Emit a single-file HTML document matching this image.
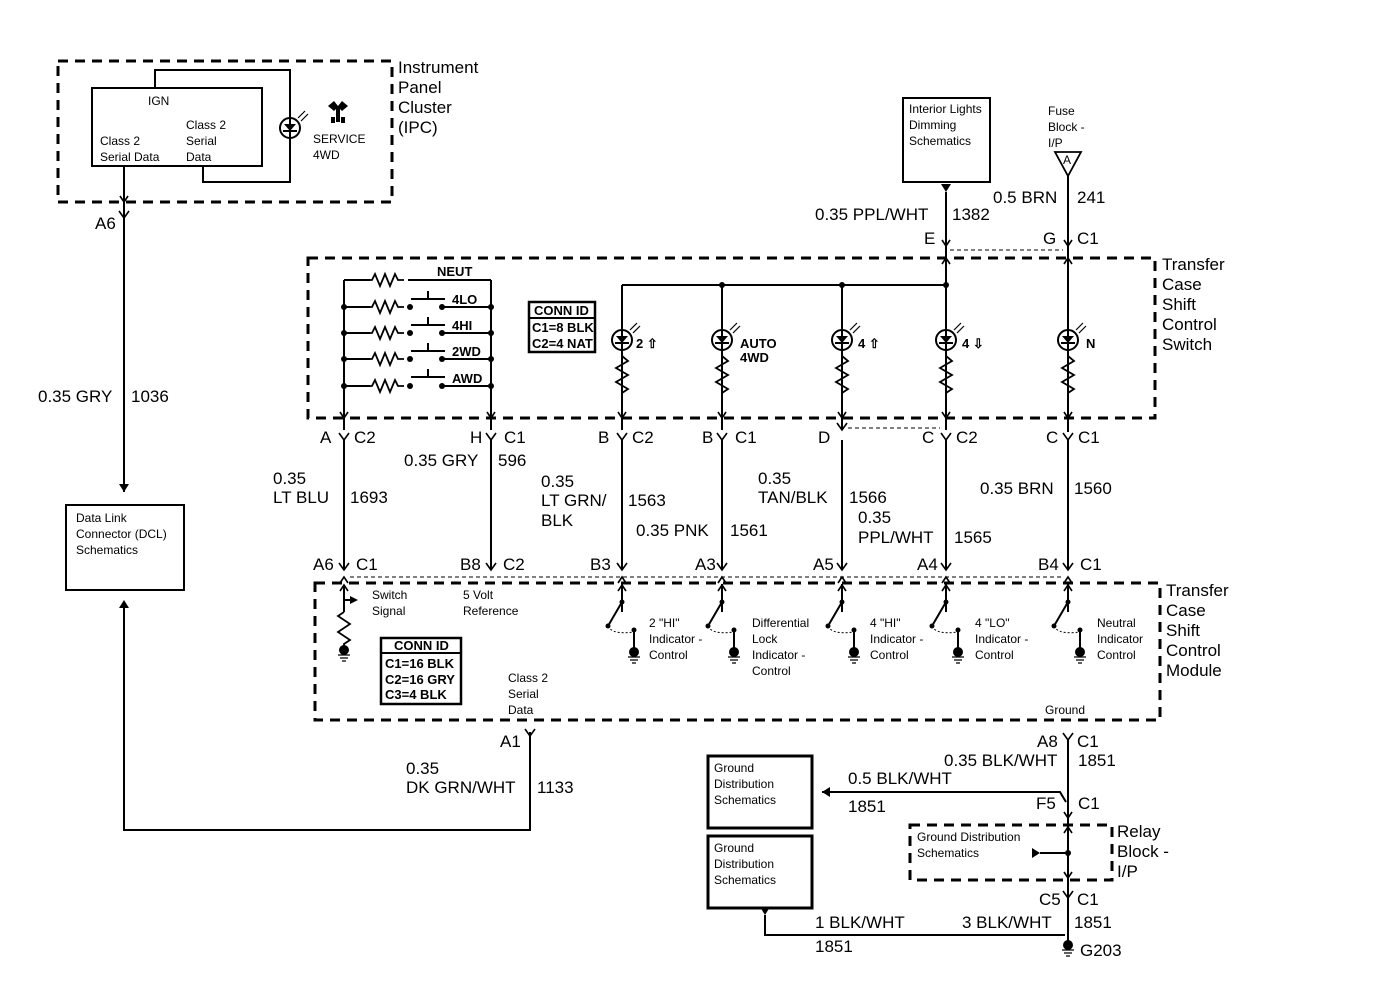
<!DOCTYPE html>
<html><head><meta charset="utf-8"><style>
html,body{margin:0;padding:0;background:#fff}
svg{display:block}
text{font-family:"Liberation Sans",Arial,sans-serif;fill:#000}
.l{font-size:17px}
.s{font-size:12px}
.m{font-size:13px;font-weight:bold}
</style></head><body>
<svg width="1400" height="992" viewBox="0 0 1400 992" xmlns="http://www.w3.org/2000/svg">
<defs>
<g id="led"><circle r="10" fill="#fff" stroke="#000" stroke-width="2"/><path d="M-6,-4 L6,-4 L0,3 Z" fill="#000"/><path d="M-7,3 L7,3 M0,-10 L0,10" stroke="#000" stroke-width="2"/><path d="M8,-10 L15,-17 M11,-7 L18,-14" stroke="#000" stroke-width="1.2"/></g>
<path id="res" d="M0,0 L0,4 L6,9 L-6,16 L6,23 L-6,30 L6,37 L0,41 L0,44" fill="none" stroke="#000" stroke-width="1.8"/>
<path id="hres" d="M0,0 L6,0 L9,-6 L14,6 L19,-6 L24,6 L29,-6 L32,0 L38,0" fill="none" stroke="#000" stroke-width="1.8"/>
<path id="fork" d="M-5,-7 L0,0 L5,-7" fill="none" stroke="#000" stroke-width="1.6"/>
<path id="arrd" d="M-4,-6 L0,0 L4,-6" fill="none" stroke="#000" stroke-width="1.6"/>
<path id="arru" d="M-4,6 L0,0 L4,6" fill="none" stroke="#000" stroke-width="1.6"/>
<g id="gnd"><circle r="5" fill="#000"/><path d="M-6,5 L6,5 M-4,8 L4,8 M-2,11 L2,11" stroke="#000" stroke-width="1.3"/></g>
<g id="sw"><circle cx="0" cy="-28" r="2.5"/><path d="M0,-46 L0,-28 L-14,-4" stroke="#000" stroke-width="2" fill="none"/><circle cx="-14" cy="-4" r="2.5"/><path d="M-14,-4 Q-10,5 12,2" stroke="#000" stroke-dasharray="2,2" fill="none"/><circle cx="12" cy="0" r="2.5"/><path d="M12,0 L12,20" stroke="#000" stroke-width="2"/><use href="#gnd" x="12" y="22"/></g>
<g id="pb"><path d="M-17,0 L17,0 M0,0 L0,-8" stroke="#000" stroke-width="2"/></g>
</defs>
<g stroke="#000" fill="none">
<rect x="58" y="61" width="334" height="141" stroke-width="3" stroke-dasharray="10,7"/>
<rect x="92" y="88" width="170" height="78" stroke-width="2"/>
<path d="M155,88 L155,70 L290,70 L290,182 L203,182 L203,166" stroke-width="2"/>
<path d="M124,166 L124,492" stroke-width="2"/>
<rect x="66" y="505" width="118" height="85" stroke-width="2"/>
<path d="M124,606 L124,830 L530,830 L530,732" stroke-width="2"/>
<rect x="308" y="258" width="847" height="160" stroke-width="3" stroke-dasharray="10,7"/>
<rect x="315" y="583" width="845" height="137" stroke-width="3" stroke-dasharray="10,7"/>
<rect x="903" y="98" width="87" height="84" stroke-width="2"/>
<path d="M946,192 L946,430" stroke-width="2"/>
<path d="M1068,175 L1068,432" stroke-width="2"/>
<path d="M1055,152 L1081,152 L1068,176 Z" stroke-width="1.8"/>
<path d="M950,250 L1063,250" stroke-dasharray="4,3"/>
<path d="M344,280 L344,430 M491,280 L491,430" stroke-width="2"/>
<path d="M344,280 L370,280 M408,280 L491,280" stroke-width="2"/>
<path d="M442,307 L490,307 M442,333 L490,333 M442,359 L490,359 M442,386 L490,386" stroke-width="2"/>
<path d="M344,307 L370,307 M344,333 L370,333 M344,359 L370,359 M344,386 L370,386" stroke-width="2"/>
<path d="M622,285 L946,285" stroke-width="2"/>
<path d="M622,285 L622,430 M722,285 L722,430 M842,285 L842,430" stroke-width="2"/>
<path d="M848,428 L940,428" stroke-dasharray="4,3"/>
<path d="M344,440 L344,570 M491,440 L491,570 M622,440 L622,570 M722,440 L722,570 M842,440 L842,570 M946,440 L946,570 M1068,440 L1068,570" stroke-width="2"/>
<path d="M350,577 L1062,577" stroke-dasharray="4,3"/>
<path d="M344,585 L344,612 M622,585 L622,612 M722,585 L722,612 M842,585 L842,612 M946,585 L946,612 M1068,585 L1068,612" stroke-width="2"/>
<path d="M344,600 L354,600" stroke-width="2"/>
<path d="M1068,740 L1068,945" stroke-width="2"/>
<path d="M822,792 L1060,792 L1066,802" stroke-width="2"/>
<rect x="708" y="756" width="104" height="72" stroke-width="3"/>
<rect x="708" y="836" width="104" height="72" stroke-width="3"/>
<rect x="910" y="825" width="202" height="55" stroke-width="3" stroke-dasharray="10,7"/>
<path d="M1040,853 L1068,853" stroke-width="2"/>
<path d="M765,915 L765,935 L1065,935" stroke-width="2"/>
</g>
<use href="#hres" x="366" y="280"/><use href="#hres" x="366" y="307"/><use href="#hres" x="366" y="333"/><use href="#hres" x="366" y="359"/><use href="#hres" x="366" y="386"/>
<use href="#pb" x="428" y="299"/><use href="#pb" x="428" y="325"/><use href="#pb" x="428" y="351"/><use href="#pb" x="428" y="377"/>
<g fill="#000">
<circle cx="344" cy="307" r="3"/><circle cx="344" cy="333" r="3"/><circle cx="344" cy="359" r="3"/><circle cx="344" cy="386" r="3"/>
<circle cx="491" cy="307" r="3"/><circle cx="491" cy="333" r="3"/><circle cx="491" cy="359" r="3"/><circle cx="491" cy="386" r="3"/>
<circle cx="410" cy="307" r="3"/><circle cx="410" cy="333" r="3"/><circle cx="410" cy="359" r="3"/><circle cx="410" cy="386" r="3"/>
<circle cx="442" cy="307" r="3"/><circle cx="442" cy="333" r="3"/><circle cx="442" cy="359" r="3"/><circle cx="442" cy="386" r="3"/>
<circle cx="722" cy="285" r="3"/><circle cx="842" cy="285" r="3"/><circle cx="946" cy="285" r="3"/><circle cx="1068" cy="853" r="3"/>
<path d="M946,192 L941,184 L951,184 Z"/><path d="M765,915 L760,907 L770,907 Z"/>
<path d="M822,792 L830,787 L830,797 Z"/><path d="M1040,853 L1032,848 L1032,858 Z"/>
<path d="M124,492 L119,484 L129,484 Z"/><path d="M124,600 L119,608 L129,608 Z"/>
<path d="M358,600 L350,596 L350,604 Z"/>
<!-- service icon -->
<path d="M328,106 L334,101 L338,106 L342,101 L348,106 L342,111 L340,109 L340,122 L336,122 L336,109 L334,111 Z"/>
<rect x="331" y="117" width="4" height="6"/><rect x="341" y="117" width="4" height="6"/>
</g>
<use href="#led" x="622" y="340"/><use href="#led" x="722" y="340"/><use href="#led" x="842" y="340"/><use href="#led" x="946" y="340"/><use href="#led" x="1068" y="340"/>
<use href="#res" x="622" y="352"/><use href="#res" x="722" y="352"/><use href="#res" x="842" y="352"/><use href="#res" x="946" y="352"/><use href="#res" x="1068" y="352"/>
<use href="#led" x="290" y="128"/>
<use href="#arrd" x="124" y="202"/><use href="#arrd" x="344" y="418"/><use href="#arrd" x="491" y="418"/><use href="#arrd" x="622" y="418"/><use href="#arrd" x="722" y="418"/><use href="#arrd" x="842" y="418"/><use href="#arrd" x="946" y="418"/><use href="#arrd" x="1068" y="418"/>
<use href="#arru" x="946" y="258"/><use href="#arru" x="1068" y="258"/>
<use href="#arru" x="344" y="585"/><use href="#arru" x="622" y="585"/><use href="#arru" x="722" y="585"/><use href="#arru" x="842" y="585"/><use href="#arru" x="946" y="585"/><use href="#arru" x="1068" y="585"/>
<use href="#arru" x="1068" y="827"/><use href="#arrd" x="1068" y="878"/>
<use href="#fork" x="124" y="218"/>
<use href="#fork" x="344" y="440"/><use href="#fork" x="491" y="440"/><use href="#fork" x="622" y="440"/><use href="#fork" x="722" y="440"/><use href="#fork" x="842" y="430"/><use href="#fork" x="946" y="440"/><use href="#fork" x="1068" y="440"/>
<use href="#arrd" x="946" y="246"/><use href="#arrd" x="1068" y="246"/>
<use href="#fork" x="344" y="570"/><use href="#fork" x="491" y="570"/><use href="#fork" x="622" y="570"/><use href="#fork" x="722" y="570"/><use href="#fork" x="842" y="570"/><use href="#fork" x="946" y="570"/><use href="#fork" x="1068" y="570"/>
<use href="#arru" x="344" y="577"/><use href="#arru" x="622" y="577"/><use href="#arru" x="722" y="577"/><use href="#arru" x="842" y="577"/><use href="#arru" x="946" y="577"/><use href="#arru" x="1068" y="577"/>
<use href="#fork" x="530" y="736"/><use href="#fork" x="1068" y="740"/><use href="#fork" x="1068" y="898"/>
<use href="#arrd" x="1068" y="818"/>
<use href="#sw" x="622" y="630"/><use href="#sw" x="722" y="630"/><use href="#sw" x="842" y="630"/><use href="#sw" x="946" y="630"/><use href="#sw" x="1068" y="630"/>
<use href="#gnd" x="344" y="650"/>
<path d="M344,612 L338,616 L350,624 L338,632 L350,640 L344,644 L344,650" fill="none" stroke="#000" stroke-width="1.8"/>
<use href="#gnd" x="1068" y="945"/>
<text class="l" x="398" y="73">Instrument</text><text class="l" x="398" y="93">Panel</text><text class="l" x="398" y="113">Cluster</text><text class="l" x="398" y="133">(IPC)</text>
<text class="s" x="148" y="105">IGN</text>
<text class="s" x="186" y="129">Class 2</text><text class="s" x="186" y="145">Serial</text><text class="s" x="186" y="161">Data</text>
<text class="s" x="100" y="145">Class 2</text><text class="s" x="100" y="161">Serial Data</text>
<text class="s" x="313" y="143">SERVICE</text><text class="s" x="313" y="159">4WD</text>
<text class="l" x="95" y="229">A6</text>
<text class="l" x="38" y="402">0.35 GRY</text><text class="l" x="131" y="402">1036</text>
<text class="s" x="76" y="522">Data Link</text><text class="s" x="76" y="538">Connector (DCL)</text><text class="s" x="76" y="554">Schematics</text>
<text class="s" x="909" y="113">Interior Lights</text><text class="s" x="909" y="129">Dimming</text><text class="s" x="909" y="145">Schematics</text>
<text class="s" x="1048" y="115">Fuse</text><text class="s" x="1048" y="131">Block -</text><text class="s" x="1048" y="147">I/P</text>
<text class="s" x="1063" y="164">A</text>
<text class="l" x="815" y="220">0.35 PPL/WHT</text><text class="l" x="952" y="220">1382</text>
<text class="l" x="993" y="203">0.5 BRN</text><text class="l" x="1077" y="203">241</text>
<text class="l" x="924" y="244">E</text><text class="l" x="1043" y="244">G</text><text class="l" x="1077" y="244">C1</text>
<text class="l" x="1162" y="270">Transfer</text><text class="l" x="1162" y="290">Case</text><text class="l" x="1162" y="310">Shift</text><text class="l" x="1162" y="330">Control</text><text class="l" x="1162" y="350">Switch</text>
<text class="m" x="437" y="276">NEUT</text><text class="m" x="452" y="304">4LO</text><text class="m" x="452" y="330">4HI</text><text class="m" x="452" y="356">2WD</text><text class="m" x="452" y="383">AWD</text>
<rect x="529" y="302" width="66" height="50" fill="none" stroke="#000" stroke-width="2.5"/><path d="M529,318 L595,318" stroke="#000" stroke-width="2"/>
<text class="m" x="534" y="315">CONN ID</text><text class="m" x="532" y="332">C1=8 BLK</text><text class="m" x="532" y="348">C2=4 NAT</text>
<text class="m" x="636" y="348">2 ⇧</text><text class="m" x="740" y="348">AUTO</text><text class="m" x="740" y="362">4WD</text><text class="m" x="858" y="348">4 ⇧</text><text class="m" x="962" y="348">4 ⇩</text><text class="m" x="1086" y="348">N</text>
<text class="l" x="320" y="443">A</text><text class="l" x="354" y="443">C2</text>
<text class="l" x="470" y="443">H</text><text class="l" x="504" y="443">C1</text>
<text class="l" x="598" y="443">B</text><text class="l" x="632" y="443">C2</text>
<text class="l" x="702" y="443">B</text><text class="l" x="735" y="443">C1</text>
<text class="l" x="818" y="443">D</text>
<text class="l" x="922" y="443">C</text><text class="l" x="956" y="443">C2</text>
<text class="l" x="1046" y="443">C</text><text class="l" x="1078" y="443">C1</text>
<text class="l" x="273" y="484">0.35</text><text class="l" x="273" y="503">LT BLU</text><text class="l" x="350" y="503">1693</text>
<text class="l" x="404" y="466">0.35 GRY</text><text class="l" x="498" y="466">596</text>
<text class="l" x="541" y="487">0.35</text><text class="l" x="541" y="506">LT GRN/</text><text class="l" x="541" y="526">BLK</text><text class="l" x="628" y="506">1563</text>
<text class="l" x="636" y="536">0.35 PNK</text><text class="l" x="730" y="536">1561</text>
<text class="l" x="758" y="484">0.35</text><text class="l" x="758" y="503">TAN/BLK</text><text class="l" x="849" y="503">1566</text>
<text class="l" x="858" y="523">0.35</text><text class="l" x="858" y="543">PPL/WHT</text><text class="l" x="954" y="543">1565</text>
<text class="l" x="980" y="494">0.35 BRN</text><text class="l" x="1074" y="494">1560</text>
<text class="l" x="313" y="570">A6</text><text class="l" x="356" y="570">C1</text>
<text class="l" x="460" y="570">B8</text><text class="l" x="503" y="570">C2</text>
<text class="l" x="590" y="570">B3</text><text class="l" x="695" y="570">A3</text><text class="l" x="813" y="570">A5</text><text class="l" x="917" y="570">A4</text>
<text class="l" x="1038" y="570">B4</text><text class="l" x="1080" y="570">C1</text>
<text class="l" x="1166" y="596">Transfer</text><text class="l" x="1166" y="616">Case</text><text class="l" x="1166" y="636">Shift</text><text class="l" x="1166" y="656">Control</text><text class="l" x="1166" y="676">Module</text>
<text class="s" x="372" y="599">Switch</text><text class="s" x="372" y="615">Signal</text>
<text class="s" x="463" y="599">5 Volt</text><text class="s" x="463" y="615">Reference</text>
<rect x="381" y="638" width="80" height="66" fill="none" stroke="#000" stroke-width="2.5"/><path d="M381,653 L461,653" stroke="#000" stroke-width="2"/>
<text class="m" x="394" y="650">CONN ID</text><text class="m" x="385" y="668">C1=16 BLK</text><text class="m" x="385" y="684">C2=16 GRY</text><text class="m" x="385" y="699">C3=4 BLK</text>
<text class="s" x="508" y="682">Class 2</text><text class="s" x="508" y="698">Serial</text><text class="s" x="508" y="714">Data</text>
<text class="s" x="649" y="627">2 "HI"</text><text class="s" x="649" y="643">Indicator -</text><text class="s" x="649" y="659">Control</text>
<text class="s" x="752" y="627">Differential</text><text class="s" x="752" y="643">Lock</text><text class="s" x="752" y="659">Indicator -</text><text class="s" x="752" y="675">Control</text>
<text class="s" x="870" y="627">4 "HI"</text><text class="s" x="870" y="643">Indicator -</text><text class="s" x="870" y="659">Control</text>
<text class="s" x="975" y="627">4 "LO"</text><text class="s" x="975" y="643">Indicator -</text><text class="s" x="975" y="659">Control</text>
<text class="s" x="1097" y="627">Neutral</text><text class="s" x="1097" y="643">Indicator</text><text class="s" x="1097" y="659">Control</text>
<text class="s" x="1045" y="714">Ground</text>
<text class="l" x="500" y="747">A1</text>
<text class="l" x="406" y="774">0.35</text><text class="l" x="406" y="793">DK GRN/WHT</text><text class="l" x="537" y="793">1133</text>
<text class="l" x="1037" y="747">A8</text><text class="l" x="1077" y="747">C1</text>
<text class="l" x="944" y="766">0.35 BLK/WHT</text><text class="l" x="1078" y="766">1851</text>
<text class="l" x="848" y="784">0.5 BLK/WHT</text><text class="l" x="848" y="812">1851</text>
<text class="l" x="1036" y="809">F5</text><text class="l" x="1078" y="809">C1</text>
<text class="s" x="714" y="772">Ground</text><text class="s" x="714" y="788">Distribution</text><text class="s" x="714" y="804">Schematics</text>
<text class="s" x="714" y="852">Ground</text><text class="s" x="714" y="868">Distribution</text><text class="s" x="714" y="884">Schematics</text>
<text class="s" x="917" y="841">Ground Distribution</text><text class="s" x="917" y="857">Schematics</text>
<text class="l" x="1117" y="837">Relay</text><text class="l" x="1117" y="857">Block -</text><text class="l" x="1117" y="877">I/P</text>
<text class="l" x="1039" y="905">C5</text><text class="l" x="1077" y="905">C1</text>
<text class="l" x="815" y="928">1 BLK/WHT</text><text class="l" x="815" y="952">1851</text>
<text class="l" x="962" y="928">3 BLK/WHT</text><text class="l" x="1074" y="928">1851</text>
<text class="l" x="1080" y="956">G203</text>
</svg>
</body></html>
